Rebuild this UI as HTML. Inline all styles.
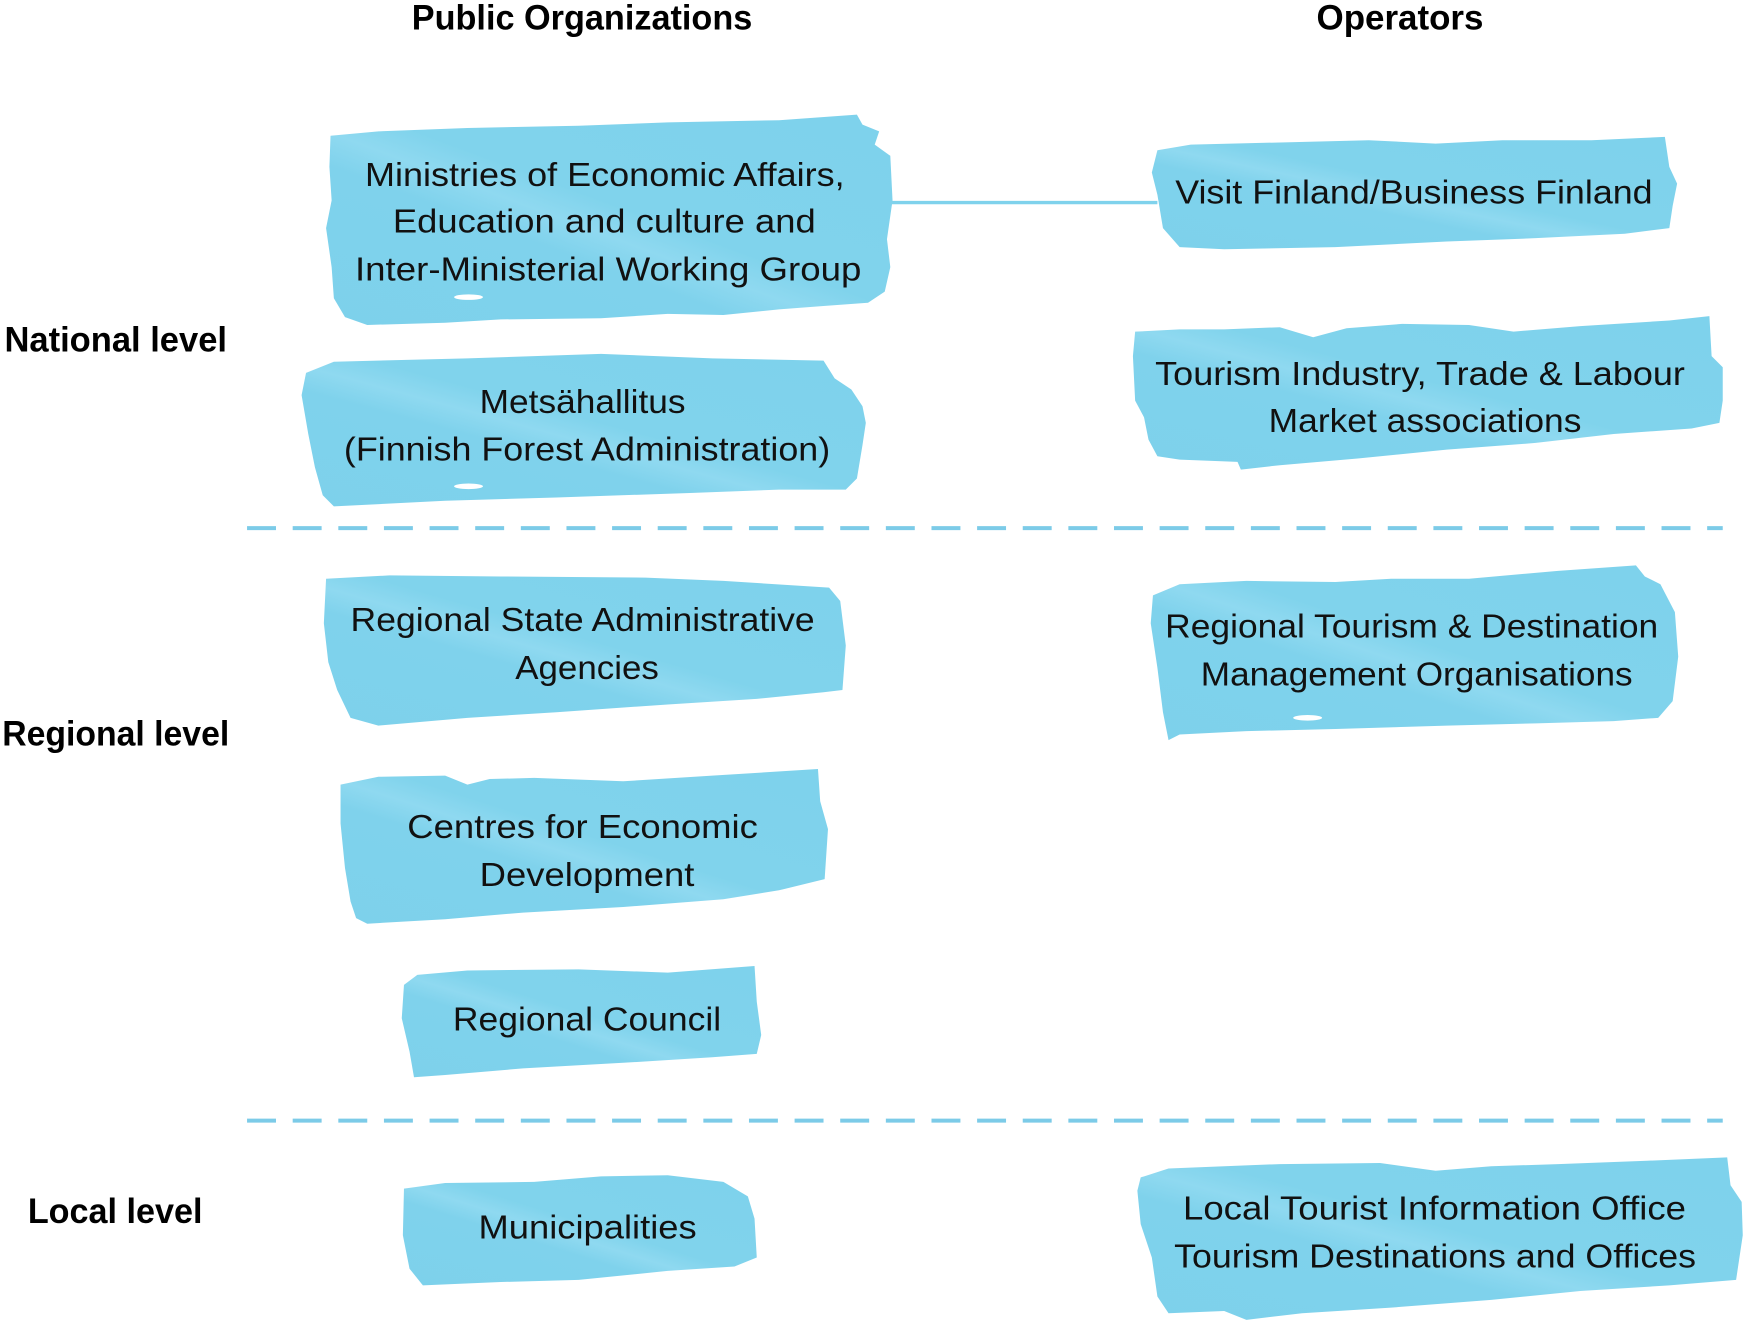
<!DOCTYPE html>
<html>
<head>
<meta charset="utf-8">
<style>
  html, body { margin: 0; padding: 0; background: #ffffff; }
  body { width: 1745px; height: 1320px; overflow: hidden; }
  svg { display: block; }
  .lbl { font-family: "Liberation Sans", "DejaVu Sans", sans-serif; font-weight: bold; font-size: 32px; fill: #000; }
  .bx { font-family: "Liberation Sans", "DejaVu Sans", sans-serif; font-size: 30px; fill: #111; }
  .shape { fill: url(#brush); }
</style>
</head>
<body>
<svg width="1745" height="1320" viewBox="0 0 1568 1186.1" xmlns="http://www.w3.org/2000/svg">
  <defs>
    <linearGradient id="brush" x1="0" y1="1" x2="1" y2="0">
      <stop offset="0" stop-color="#7dd1eb"/>
      <stop offset="0.38" stop-color="#7fd2ec"/>
      <stop offset="0.46" stop-color="#8fd9f0"/>
      <stop offset="0.54" stop-color="#80d3ec"/>
      <stop offset="1" stop-color="#7ed2ec"/>
    </linearGradient>
  </defs>

  <!-- Column headers -->
  <text class="lbl" x="370" y="26.3" textLength="306" lengthAdjust="spacingAndGlyphs">Public Organizations</text>
  <text class="lbl" x="1183" y="26.3" textLength="150" lengthAdjust="spacingAndGlyphs">Operators</text>

  <!-- Row labels -->
  <text class="lbl" x="4" y="316" textLength="200" lengthAdjust="spacingAndGlyphs">National level</text>
  <text class="lbl" x="2" y="670" textLength="204" lengthAdjust="spacingAndGlyphs">Regional level</text>
  <text class="lbl" x="25" y="1099" textLength="157" lengthAdjust="spacingAndGlyphs">Local level</text>

  <!-- Dashed separators -->
  <line x1="222" y1="474.5" x2="1548" y2="474.5" stroke="#7ccbe8" stroke-width="3.6" stroke-dasharray="26 15"/>
  <line x1="222" y1="1007" x2="1548" y2="1007" stroke="#7ccbe8" stroke-width="3.6" stroke-dasharray="26 15"/>

  <!-- Connector -->
  <line x1="795" y1="182" x2="1040" y2="182" stroke="#7fd2ec" stroke-width="3"/>

  <!-- Box 1: Ministries -->
  <polygon class="shape" points="297,122 340,118 420,115 520,113 600,110 700,108 770,103 775,112 790,118 786,130 800,140 802,180 797,215 800,240 795,262 780,272 740,275 700,278 650,283 600,282 540,286 450,287 400,290 330,292 310,285 300,268 298,240 293,205 298,180 296,150"/>
  <ellipse cx="421" cy="267" rx="13" ry="2.5" fill="#ffffff"/>
  <text class="bx" x="328" y="167" textLength="431" lengthAdjust="spacingAndGlyphs">Ministries of Economic Affairs,</text>
  <text class="bx" x="353" y="209" textLength="380" lengthAdjust="spacingAndGlyphs">Education and culture and</text>
  <text class="bx" x="319" y="252" textLength="455" lengthAdjust="spacingAndGlyphs">Inter-Ministerial Working Group</text>

  <!-- Box 2: Metsähallitus -->
  <polygon class="shape" points="275,335 300,325 420,322 540,318 640,322 740,324 750,340 765,350 775,365 778,380 775,400 770,430 760,440 700,440 620,443 500,447 400,450 300,455 290,445 283,420 277,390 271,355"/>
  <ellipse cx="421" cy="437" rx="13" ry="2.5" fill="#ffffff"/>
  <text class="bx" x="431" y="371" textLength="185" lengthAdjust="spacingAndGlyphs">Metsähallitus</text>
  <text class="bx" x="309" y="414" textLength="437" lengthAdjust="spacingAndGlyphs">(Finnish Forest Administration)</text>

  <!-- Box 3: Regional State Administrative Agencies -->
  <polygon class="shape" points="293,520 350,517 450,518 580,519 650,522 745,528 755,540 760,580 757,620 740,622 680,628 600,633 500,640 420,645 340,652 315,645 303,620 295,595 291,560"/>
  <text class="bx" x="315" y="567" textLength="417" lengthAdjust="spacingAndGlyphs">Regional State Administrative</text>
  <text class="bx" x="463" y="610" textLength="129" lengthAdjust="spacingAndGlyphs">Agencies</text>

  <!-- Box 4: Centres for Economic Development -->
  <polygon class="shape" points="306,705 340,698 400,697 420,705 440,700 480,699 560,702 640,697 735,691 737,720 744,745 741,790 700,800 650,808 560,815 470,820 400,826 330,830 320,825 315,810 310,780 306,740"/>
  <text class="bx" x="366" y="753" textLength="315" lengthAdjust="spacingAndGlyphs">Centres for Economic</text>
  <text class="bx" x="431" y="796" textLength="193" lengthAdjust="spacingAndGlyphs">Development</text>

  <!-- Box 5: Regional Council -->
  <polygon class="shape" points="363,885 375,876 420,872 520,871 600,874 678,868 680,900 684,930 680,947 640,950 560,955 470,960 400,966 372,968 368,945 361,915"/>
  <text class="bx" x="407" y="926" textLength="241" lengthAdjust="spacingAndGlyphs">Regional Council</text>

  <!-- Box 6: Municipalities -->
  <polygon class="shape" points="363,1068 400,1063 480,1062 540,1057 600,1056 650,1062 672,1075 678,1095 680,1130 660,1138 600,1142 520,1150 450,1152 380,1155 368,1140 362,1110"/>
  <text class="bx" x="430" y="1113" textLength="196" lengthAdjust="spacingAndGlyphs">Municipalities</text>

  <!-- Box 7: Visit Finland -->
  <polygon class="shape" points="1040,135 1070,130 1150,128 1230,126 1290,129 1350,126 1430,126 1496,123 1500,150 1507,165 1503,185 1500,205 1460,210 1380,214 1300,217 1200,222 1100,224 1060,222 1045,205 1040,175 1035,155"/>
  <text class="bx" x="1056" y="183" textLength="429" lengthAdjust="spacingAndGlyphs">Visit Finland/Business Finland</text>

  <!-- Box 8: Tourism Industry -->
  <polygon class="shape" points="1020,298 1060,296 1100,296 1150,294 1180,303 1210,295 1260,291 1320,292 1360,298 1420,293 1500,288 1536,284 1538,320 1548,330 1548,360 1545,380 1520,385 1450,390 1380,398 1300,404 1220,412 1150,418 1115,422 1112,415 1060,413 1040,410 1032,395 1028,375 1020,360 1018,320"/>
  <text class="bx" x="1038" y="346" textLength="476" lengthAdjust="spacingAndGlyphs">Tourism Industry, Trade &amp; Labour</text>
  <text class="bx" x="1140" y="388" textLength="281" lengthAdjust="spacingAndGlyphs">Market associations</text>

  <!-- Box 9: Regional Tourism -->
  <polygon class="shape" points="1036,535 1060,525 1120,522 1200,523 1250,520 1320,520 1400,513 1470,508 1478,518 1492,525 1505,550 1508,590 1503,630 1490,645 1450,648 1380,650 1300,652 1200,655 1120,657 1060,660 1050,665 1045,640 1040,600 1034,560"/>
  <ellipse cx="1175" cy="645" rx="13" ry="2.5" fill="#ffffff"/>
  <text class="bx" x="1047" y="573" textLength="443" lengthAdjust="spacingAndGlyphs">Regional Tourism &amp; Destination</text>
  <text class="bx" x="1079" y="616" textLength="388" lengthAdjust="spacingAndGlyphs">Management Organisations</text>

  <!-- Box 10: Local Tourist Information -->
  <polygon class="shape" points="1025,1058 1050,1050 1150,1046 1240,1045 1290,1052 1340,1048 1400,1046 1480,1043 1552,1040 1555,1065 1565,1080 1566,1110 1560,1150 1500,1155 1420,1160 1340,1168 1250,1175 1170,1180 1120,1186 1100,1178 1050,1180 1040,1165 1035,1130 1025,1100 1022,1070"/>
  <text class="bx" x="1063" y="1096" textLength="452" lengthAdjust="spacingAndGlyphs">Local Tourist Information Office</text>
  <text class="bx" x="1055" y="1139" textLength="469" lengthAdjust="spacingAndGlyphs">Tourism Destinations and Offices</text>
</svg>
</body>
</html>
